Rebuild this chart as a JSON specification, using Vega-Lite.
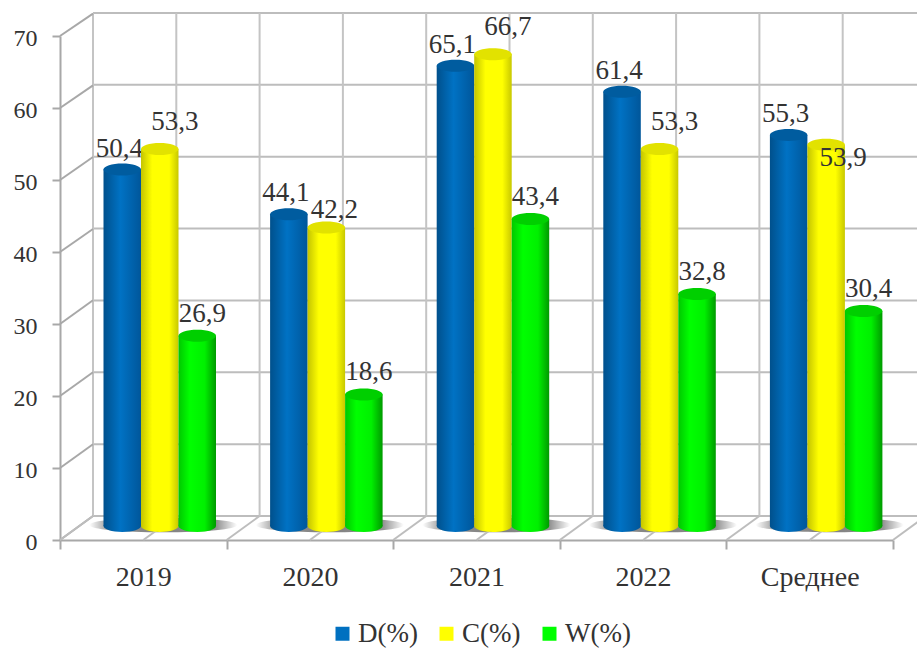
{
"$schema":"https://vega.github.io/schema/vega-lite/v6.json",
"width":857,"height":540,
"autosize":{"type":"none"},
"padding":{"left":60,"top":0,"right":0,"bottom":110},
"background":"white",
"config":{"view":{"stroke":null},"font":"Liberation Serif"},
"datasets":{
"bars":[
{"cat":"2019","series":"D(%)","v":50.4,"lab":"50,4"},
{"cat":"2019","series":"C(%)","v":53.3,"lab":"53,3"},
{"cat":"2019","series":"W(%)","v":26.9,"lab":"26,9"},
{"cat":"2020","series":"D(%)","v":44.1,"lab":"44,1"},
{"cat":"2020","series":"C(%)","v":42.2,"lab":"42,2"},
{"cat":"2020","series":"W(%)","v":18.6,"lab":"18,6"},
{"cat":"2021","series":"D(%)","v":65.1,"lab":"65,1"},
{"cat":"2021","series":"C(%)","v":66.7,"lab":"66,7"},
{"cat":"2021","series":"W(%)","v":43.4,"lab":"43,4"},
{"cat":"2022","series":"D(%)","v":61.4,"lab":"61,4"},
{"cat":"2022","series":"C(%)","v":53.3,"lab":"53,3"},
{"cat":"2022","series":"W(%)","v":32.8,"lab":"32,8"},
{"cat":"Среднее","series":"D(%)","v":55.3,"lab":"55,3"},
{"cat":"Среднее","series":"C(%)","v":53.9,"lab":"53,9"},
{"cat":"Среднее","series":"W(%)","v":30.4,"lab":"30,4"}
],
"levels":[{"v":0,"vb":3.33},{"v":10,"vb":13.3},{"v":20,"vb":23.3},{"v":30,"vb":33.3},{"v":40,"vb":43.2},{"v":50,"vb":53.2},{"v":60,"vb":63.15},{"v":70,"vb":73.1}],
"steps":[{"u":0,"ub":0.198},{"u":0.5,"ub":0.698},{"u":1,"ub":1.198},{"u":1.5,"ub":1.698},{"u":2,"ub":2.198},{"u":2.5,"ub":2.698},{"u":3,"ub":3.198},{"u":3.5,"ub":3.698},{"u":4,"ub":4.198},{"u":4.5,"ub":4.698},{"u":5,"ub":5.198}],
"shadows":[{"u":0.62,"f":2.1},{"u":1.62,"f":2.1},{"u":2.62,"f":2.1},{"u":3.62,"f":2.1},{"u":4.62,"f":2.1}]
},
"data":{"name":"bars"},
"resolve":{"scale":{"x":"independent","y":"independent","xOffset":"independent"}},
"layer":[
{"data":{"name":"shadows"},
 "mark":{"type":"point","filled":true,"opacity":1,"shape":"M-1,0A1,0.1,0,1,0,1,0A1,0.1,0,1,0,-1,0Z","size":21904,"fill":{"gradient":"radial","x1":0.5,"y1":0.5,"r1":0,"x2":0.5,"y2":0.5,"r2":0.5,"stops":[{"offset":0,"color":"#808080"},{"offset":0.72,"color":"#929292"},{"offset":1,"color":"#ffffff"}]}},
 "encoding":{"x":{"field":"u","type":"quantitative","axis":null,"scale":{"domain":[0,5],"range":[0,833]}},
 "y":{"field":"f","type":"quantitative","axis":null,"scale":{"domain":[0,70],"range":[540,36]}}}},
{"data":{"name":"levels"},
 "mark":{"type":"rule","color":"#bdbdbd","strokeWidth":2},
 "encoding":{"x":{"datum":0,"type":"quantitative","axis":null,"scale":{"domain":[0,5],"range":[33,866]}},"x2":{"datum":5},
 "y":{"field":"v","type":"quantitative","axis":null,"scale":{"domain":[0,70],"range":[516,13]}}}},
{"data":{"name":"steps"},
 "transform":[{"filter":"datum.u<5"}],
 "mark":{"type":"rule","color":"#c4c4c4","strokeWidth":2},
 "encoding":{"x":{"field":"u","type":"quantitative","axis":null,"scale":{"domain":[0,5],"range":[33,866]}},
 "y":{"datum":0,"type":"quantitative","axis":null,"scale":{"domain":[0,70],"range":[516,13]}},"y2":{"datum":70}}},
{"data":{"name":"levels"},
 "mark":{"type":"rule","color":"#a8a8a8","strokeWidth":2},
 "encoding":{"x":{"datum":0,"type":"quantitative","axis":null,"scale":{"domain":[0,5],"range":[0,833]}},"x2":{"datum":0.198},
 "y":{"field":"v","type":"quantitative","axis":null,"scale":{"domain":[0,70],"range":[540,36]}},"y2":{"field":"vb"}}},
{"data":{"name":"steps"},
 "mark":{"type":"rule","color":"#bdbdbd","strokeWidth":2},
 "encoding":{"x":{"field":"u","type":"quantitative","axis":null,"scale":{"domain":[0,5],"range":[0,833]}},"x2":{"field":"ub"},
 "y":{"datum":0,"type":"quantitative","axis":null,"scale":{"domain":[0,70],"range":[540,36]}},"y2":{"datum":3.33}}},
{"mark":{"type":"bar","opacity":0},
 "encoding":{
 "x":{"field":"cat","type":"nominal","sort":null,"title":null,
  "scale":{"domain":["2019","2020","2021","2022","Среднее"],"range":[0,833],"paddingInner":0,"paddingOuter":0},
  "axis":{"tickBand":"extent","labelAngle":0,"labelFont":"Liberation Serif","labelFontSize":28,"labelColor":"#333333","labelPadding":14,"tickSize":9,"tickWidth":2,"tickColor":"#a8a8a8","domainColor":"#a8a8a8","domainWidth":2,"grid":false}},
 "xOffset":{"field":"series","type":"nominal","scale":{"domain":["D(%)","C(%)","W(%)"],"range":[43.5,156],"paddingInner":0,"paddingOuter":0}},
 "y":{"field":"v","type":"quantitative","title":null,
  "scale":{"domain":[0,70],"range":[540,36]},
  "axis":{"values":[0,10,20,30,40,50,60,70],"grid":false,"labelFont":"Liberation Serif","labelFontSize":24,"labelColor":"#333333","labelPadding":15,"labelOffset":2,"tickSize":8,"tickWidth":2,"tickColor":"#a8a8a8","domainColor":"#a8a8a8","domainWidth":2}},
 "color":{"field":"series","type":"nominal","scale":{"domain":["D(%)","C(%)","W(%)"],"range":["#0070c0","#ffff00","#00ff00"]},
  "legend":{"title":null,"orient":"none","legendX":269,"legendY":620,"direction":"horizontal","symbolType":"square","symbolSize":196,"symbolOpacity":1,"labelFont":"Liberation Serif","labelFontSize":27,"labelColor":"#333333","labelOffset":2,"columnPadding":15,"symbolStrokeWidth":0,"labelLimit":200}}}},
{"transform":[{"filter":"datum.series==='D(%)'"}],"layer":[
 {"mark":{"type":"bar","color":{"gradient":"linear","x1":0,"y1":0,"x2":1,"y2":0,"stops":[{"offset":0,"color":"#00508c"},{"offset":0.45,"color":"#0072c4"},{"offset":1,"color":"#00569a"}]}}},
 {"mark":{"type":"point","filled":true,"opacity":1,"size":1406,"shape":"M-1,0A1,0.32,0,1,0,1,0A1,0.32,0,1,0,-1,0Z","fill":{"gradient":"linear","x1":0,"y1":0,"x2":1,"y2":0,"stops":[{"offset":0,"color":"#00508c"},{"offset":0.45,"color":"#0072c4"},{"offset":1,"color":"#00569a"}]}},"encoding":{"y":{"datum":0,"type":"quantitative","axis":null,"scale":{"domain":[0,70],"range":[526,31]}}}},
 {"mark":{"type":"point","filled":true,"opacity":1,"size":1406,"shape":"M-1,0A1,0.32,0,1,0,1,0A1,0.32,0,1,0,-1,0Z","fill":"#005c9f"}},
 {"mark":{"type":"text","font":"Liberation Serif","fontSize":27,"color":"#333333","dx":-3,"dy":-13,"baseline":"alphabetic"},"encoding":{"text":{"field":"lab"}}}
 ],"encoding":{"x":{"field":"cat","type":"nominal","sort":null,"axis":null,"scale":{"domain":["2019","2020","2021","2022","Среднее"],"range":[0,833],"paddingInner":0,"paddingOuter":0}},"xOffset":{"field":"series","type":"nominal","scale":{"domain":["D(%)","C(%)","W(%)"],"range":[43.5,156],"paddingInner":0,"paddingOuter":0}},"y":{"field":"v","type":"quantitative","axis":null,"scale":{"domain":[0,70],"range":[526,31]}}}},
{"transform":[{"filter":"datum.series==='C(%)'"}],"layer":[
 {"mark":{"type":"bar","color":{"gradient":"linear","x1":0,"y1":0,"x2":1,"y2":0,"stops":[{"offset":0,"color":"#c4c400"},{"offset":0.3,"color":"#ffff00"},{"offset":0.75,"color":"#ffff00"},{"offset":1,"color":"#c8c800"}]}}},
 {"mark":{"type":"point","filled":true,"opacity":1,"size":1406,"shape":"M-1,0A1,0.32,0,1,0,1,0A1,0.32,0,1,0,-1,0Z","fill":{"gradient":"linear","x1":0,"y1":0,"x2":1,"y2":0,"stops":[{"offset":0,"color":"#c4c400"},{"offset":0.3,"color":"#ffff00"},{"offset":0.75,"color":"#ffff00"},{"offset":1,"color":"#c8c800"}]}},"encoding":{"y":{"datum":0,"type":"quantitative","axis":null,"scale":{"domain":[0,70],"range":[526,31]}}}},
 {"mark":{"type":"point","filled":true,"opacity":1,"size":1406,"shape":"M-1,0A1,0.32,0,1,0,1,0A1,0.32,0,1,0,-1,0Z","fill":"#e2e200"}},
 {"transform":[{"filter":"datum.lab!=='42,2' && datum.lab!=='53,9'"}],"mark":{"type":"text","font":"Liberation Serif","fontSize":27,"color":"#333333","dx":15,"dy":-19,"baseline":"alphabetic"},"encoding":{"text":{"field":"lab"}}},
 {"transform":[{"filter":"datum.lab==='42,2'"}],"mark":{"type":"text","font":"Liberation Serif","fontSize":27,"color":"#333333","dx":8,"dy":-10,"baseline":"alphabetic"},"encoding":{"text":{"field":"lab"}}},
 {"transform":[{"filter":"datum.lab==='53,9'"}],"mark":{"type":"text","font":"Liberation Serif","fontSize":27,"color":"#333333","dx":17,"dy":21,"baseline":"alphabetic"},"encoding":{"text":{"field":"lab"}}}
 ],"encoding":{"x":{"field":"cat","type":"nominal","sort":null,"axis":null,"scale":{"domain":["2019","2020","2021","2022","Среднее"],"range":[0,833],"paddingInner":0,"paddingOuter":0}},"xOffset":{"field":"series","type":"nominal","scale":{"domain":["D(%)","C(%)","W(%)"],"range":[43.5,156],"paddingInner":0,"paddingOuter":0}},"y":{"field":"v","type":"quantitative","axis":null,"scale":{"domain":[0,70],"range":[526,31]}}}},
{"transform":[{"filter":"datum.series==='W(%)'"}],"layer":[
 {"mark":{"type":"bar","color":{"gradient":"linear","x1":0,"y1":0,"x2":1,"y2":0,"stops":[{"offset":0,"color":"#00c800"},{"offset":0.3,"color":"#00ff00"},{"offset":0.7,"color":"#00f000"},{"offset":1,"color":"#009a00"}]}}},
 {"mark":{"type":"point","filled":true,"opacity":1,"size":1406,"shape":"M-1,0A1,0.32,0,1,0,1,0A1,0.32,0,1,0,-1,0Z","fill":{"gradient":"linear","x1":0,"y1":0,"x2":1,"y2":0,"stops":[{"offset":0,"color":"#00c800"},{"offset":0.3,"color":"#00ff00"},{"offset":0.7,"color":"#00f000"},{"offset":1,"color":"#009a00"}]}},"encoding":{"y":{"datum":0,"type":"quantitative","axis":null,"scale":{"domain":[0,70],"range":[526,31]}}}},
 {"mark":{"type":"point","filled":true,"opacity":1,"size":1406,"shape":"M-1,0A1,0.32,0,1,0,1,0A1,0.32,0,1,0,-1,0Z","fill":"#00cf00"}},
 {"mark":{"type":"text","font":"Liberation Serif","fontSize":27,"color":"#333333","dx":5,"dy":-14,"baseline":"alphabetic"},"encoding":{"text":{"field":"lab"}}}
 ],"encoding":{"x":{"field":"cat","type":"nominal","sort":null,"axis":null,"scale":{"domain":["2019","2020","2021","2022","Среднее"],"range":[0,833],"paddingInner":0,"paddingOuter":0}},"xOffset":{"field":"series","type":"nominal","scale":{"domain":["D(%)","C(%)","W(%)"],"range":[43.5,156],"paddingInner":0,"paddingOuter":0}},"y":{"field":"v","type":"quantitative","axis":null,"scale":{"domain":[0,70],"range":[526,31]}}}}
]
}
